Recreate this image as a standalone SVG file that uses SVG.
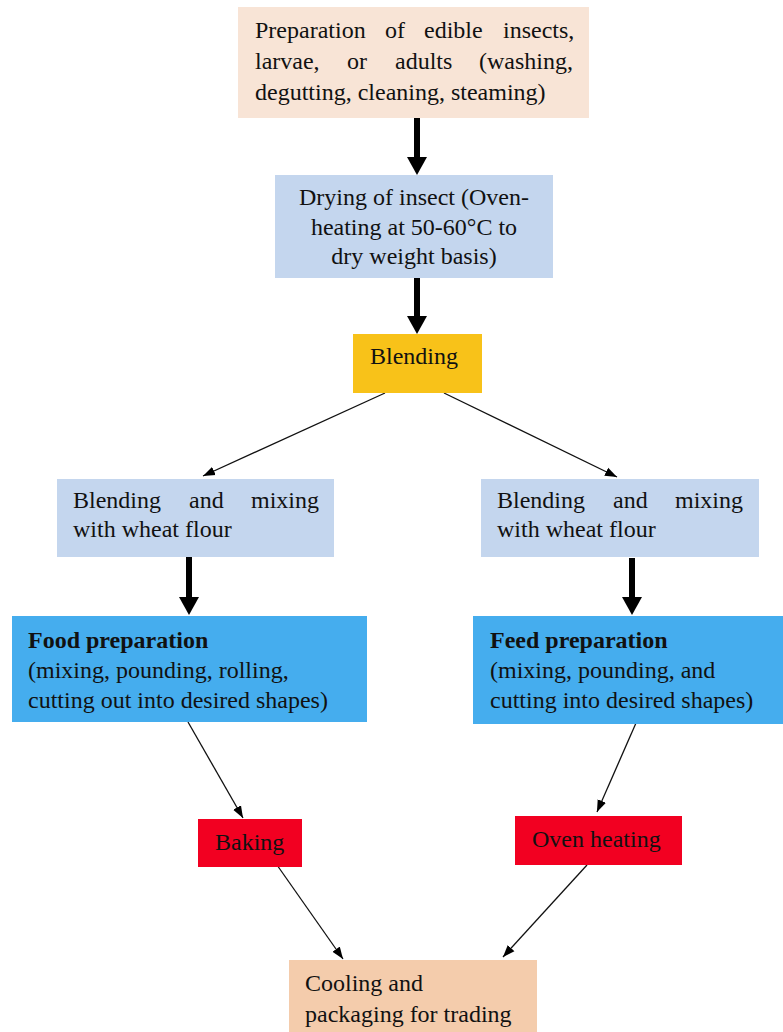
<svg xmlns="http://www.w3.org/2000/svg" width="783" height="1032" viewBox="0 0 783 1032">
<style>
text{font-family:"Liberation Serif","Times New Roman",serif;font-size:24px;fill:#111}
.b{font-weight:bold}
.thin{stroke:#111;stroke-width:1.3;fill:none}
.thick{stroke:#000;stroke-width:6;fill:none}
</style>
<defs>
<marker id="ah" markerUnits="userSpaceOnUse" markerWidth="13" markerHeight="10" refX="12" refY="5" orient="auto" viewBox="0 0 13 10"><path d="M0,0.5 L12,5 L0,9.5 z" fill="#000"/></marker>
<marker id="ahT" markerUnits="userSpaceOnUse" markerWidth="19" markerHeight="21" refX="0" refY="10.5" orient="auto" viewBox="0 0 19 21"><path d="M0,0.5 L18,10.5 L0,20.5 z" fill="#000"/></marker>
</defs>
<rect width="783" height="1032" fill="#fff"/>
<g id="connectors">
<line class="thick" x1="417" y1="118" x2="417" y2="157" marker-end="url(#ahT)"/>
<line class="thick" x1="417" y1="278" x2="417" y2="316" marker-end="url(#ahT)"/>
<line class="thick" x1="189" y1="557" x2="189" y2="597" marker-end="url(#ahT)"/>
<line class="thick" x1="632" y1="558" x2="632" y2="597" marker-end="url(#ahT)"/>
<line class="thin" x1="385" y1="393" x2="203" y2="476" marker-end="url(#ah)"/>
<line class="thin" x1="444" y1="393" x2="617" y2="477" marker-end="url(#ah)"/>
<line class="thin" x1="188" y1="722" x2="243" y2="818" marker-end="url(#ah)"/>
<line class="thin" x1="636" y1="723" x2="597" y2="812" marker-end="url(#ah)"/>
<line class="thin" x1="277" y1="865" x2="343" y2="959" marker-end="url(#ah)"/>
<line class="thin" x1="587" y1="865" x2="503" y2="957" marker-end="url(#ah)"/>
</g>
<g id="prep">
<rect x="238" y="7" width="351" height="111" fill="#F8E4D6"/>
<text y="38"><tspan x="255">Preparation</tspan><tspan x="385">of</tspan><tspan x="424">edible</tspan><tspan x="503">insects,</tspan></text>
<text y="69"><tspan x="255">larvae,</tspan><tspan x="347">or</tspan><tspan x="395">adults</tspan><tspan x="479">(washing,</tspan></text>
<text x="255" y="100">degutting, cleaning, steaming)</text>
</g>
<g id="drying">
<rect x="275" y="175" width="278" height="103" fill="#C4D6EE"/>
<text text-anchor="middle"><tspan x="414" y="205">Drying of insect (Oven-</tspan><tspan x="414" y="235">heating at 50-60°C to</tspan><tspan x="414" y="264">dry weight basis)</tspan></text>
</g>
<g id="blending">
<rect x="353" y="334" width="129" height="59" fill="#F8C219"/>
<text x="370" y="364">Blending</text>
</g>
<g id="mix-left">
<rect x="57" y="479" width="277" height="78" fill="#C4D6EE"/>
<text y="508"><tspan x="73">Blending</tspan><tspan x="189">and</tspan><tspan x="251">mixing</tspan></text>
<text x="73" y="537">with wheat flour</text>
</g>
<g id="mix-right">
<rect x="481" y="479" width="278" height="78" fill="#C4D6EE"/>
<text y="508"><tspan x="497">Blending</tspan><tspan x="613">and</tspan><tspan x="675">mixing</tspan></text>
<text x="497" y="537">with wheat flour</text>
</g>
<g id="food">
<rect x="12" y="616" width="355" height="106" fill="#45ADEE"/>
<text x="28" y="648" class="b">Food preparation</text>
<text x="28" y="678">(mixing, pounding, rolling,</text>
<text x="28" y="708">cutting out into desired shapes)</text>
</g>
<g id="feed">
<rect x="473" y="616" width="310" height="108" fill="#45ADEE"/>
<text x="490" y="648" class="b">Feed preparation</text>
<text x="490" y="678">(mixing, pounding, and</text>
<text x="490" y="708">cutting into desired shapes)</text>
</g>
<g id="baking">
<rect x="198" y="819" width="104" height="48" fill="#F20021"/>
<text x="215" y="850">Baking</text>
</g>
<g id="oven">
<rect x="515" y="816" width="167" height="49" fill="#F20021"/>
<text x="532" y="847">Oven heating</text>
</g>
<g id="cooling">
<rect x="289" y="960" width="248" height="72" fill="#F4CCAC"/>
<text x="305" y="991">Cooling and</text>
<text x="305" y="1022">packaging for trading</text>
</g>
</svg>
